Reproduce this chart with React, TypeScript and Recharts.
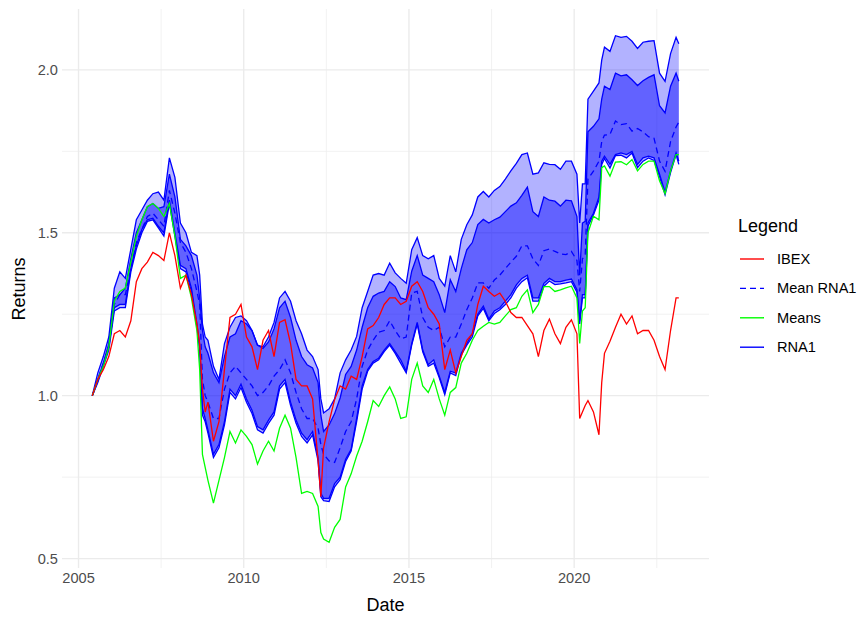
import React from 'react';
import { ComposedChart, Area, Line, XAxis, YAxis, CartesianGrid, Legend } from 'recharts';

// Monthly observation dates (YYYY-MM)
const dates = [
  '2005-06','2005-08','2005-10','2005-12','2006-02','2006-04','2006-06','2006-08','2006-10','2006-12',
  '2007-02','2007-04','2007-06','2007-08','2007-10','2007-12','2008-02','2008-04','2008-06','2008-08',
  '2008-09','2008-10','2008-11','2008-12','2009-02','2009-04','2009-06','2009-08','2009-10','2009-12',
  '2010-02','2010-04','2010-06','2010-08','2010-10','2010-12','2011-02','2011-04','2011-06','2011-08',
  '2011-10','2011-12','2012-02','2012-04','2012-05','2012-06','2012-08','2012-10','2012-12','2013-02',
  '2013-04','2013-06','2013-08','2013-10','2013-12','2014-02','2014-04','2014-06','2014-08','2014-10',
  '2014-12','2015-02','2015-04','2015-06','2015-08','2015-10','2015-12','2016-02','2016-04','2016-06',
  '2016-08','2016-10','2016-12','2017-02','2017-04','2017-06','2017-08','2017-10','2017-12','2018-02',
  '2018-04','2018-06','2018-08','2018-10','2018-12','2019-02','2019-04','2019-06','2019-08','2019-10',
  '2019-12','2020-02','2020-03','2020-04','2020-05','2020-06','2020-08','2020-10','2020-11','2020-12',
  '2021-02','2021-04','2021-06','2021-08','2021-10','2021-12','2022-02','2022-04','2022-06','2022-08',
  '2022-10','2022-12','2023-02','2023-03',
];

// RNA1 outer band upper bound
const rna1Upper = [
  1.00,1.07,1.12,1.18,1.33,1.38,1.36,1.45,1.54,1.57,
  1.60,1.62,1.625,1.60,1.73,1.67,1.53,1.50,1.44,1.43,
  1.37,1.22,1.18,1.17,1.09,1.05,1.16,1.21,1.24,1.245,
  1.23,1.20,1.155,1.15,1.18,1.225,1.30,1.32,1.29,1.23,
  1.19,1.14,1.12,1.08,0.99,0.947,0.96,0.99,1.07,1.11,
  1.14,1.182,1.27,1.32,1.37,1.375,1.37,1.407,1.377,1.36,
  1.345,1.448,1.485,1.43,1.42,1.43,1.36,1.336,1.43,1.38,
  1.48,1.525,1.555,1.61,1.627,1.61,1.63,1.642,1.665,1.69,
  1.713,1.74,1.745,1.68,1.684,1.715,1.71,1.709,1.695,1.72,
  1.72,1.68,1.53,1.65,1.65,1.91,1.935,1.96,2.03,2.07,
  2.057,2.105,2.10,2.103,2.088,2.066,2.085,2.088,2.09,1.99,
  1.965,2.05,2.10,2.08,
];

// RNA1 inner band upper bound
const rna1UpperInner = [
  1.00,1.05,1.10,1.16,1.30,1.31,1.33,1.42,1.50,1.54,
  1.58,1.59,1.575,1.58,1.68,1.61,1.48,1.46,1.43,1.37,
  1.30,1.20,1.15,1.13,1.07,1.04,1.12,1.18,1.19,1.23,
  1.22,1.20,1.155,1.145,1.165,1.205,1.27,1.29,1.24,1.17,
  1.12,1.095,1.085,1.04,0.94,0.89,0.91,0.945,0.993,1.065,
  1.09,1.14,1.21,1.27,1.305,1.315,1.32,1.35,1.335,1.30,
  1.295,1.382,1.43,1.37,1.36,1.35,1.31,1.255,1.356,1.32,
  1.39,1.448,1.47,1.525,1.541,1.53,1.54,1.548,1.565,1.582,
  1.592,1.615,1.64,1.565,1.55,1.61,1.60,1.597,1.582,1.60,
  1.598,1.55,1.37,1.53,1.535,1.81,1.827,1.85,1.91,1.95,
  1.94,1.99,1.982,1.985,1.97,1.952,1.967,1.977,1.985,1.89,
  1.868,1.95,1.99,1.965,
];

// Mean RNA1 (dashed)
const meanRna1 = [
  1.00,1.05,1.10,1.15,1.28,1.31,1.31,1.39,1.47,1.51,
  1.55,1.56,1.54,1.52,1.63,1.56,1.47,1.44,1.39,1.32,
  1.28,1.05,1.00,0.98,0.93,0.93,1.02,1.07,1.09,1.07,
  1.05,1.03,1.00,1.01,1.03,1.06,1.08,1.11,1.07,1.01,
  0.96,0.93,0.93,0.90,0.85,0.82,0.80,0.795,0.84,0.89,
  0.92,0.99,1.09,1.14,1.17,1.195,1.20,1.23,1.20,1.175,
  1.18,1.315,1.32,1.24,1.21,1.20,1.21,1.15,1.18,1.18,
  1.22,1.264,1.30,1.346,1.346,1.33,1.355,1.37,1.39,1.41,
  1.428,1.46,1.46,1.42,1.40,1.445,1.45,1.443,1.435,1.433,
  1.443,1.415,1.32,1.42,1.43,1.665,1.689,1.72,1.78,1.80,
  1.802,1.843,1.832,1.835,1.812,1.82,1.81,1.795,1.79,1.72,
  1.689,1.78,1.825,1.84,
];

// RNA1 inner band lower bound
const rna1LowerInner = [
  1.00,1.045,1.095,1.15,1.27,1.28,1.28,1.39,1.46,1.51,
  1.54,1.545,1.52,1.50,1.60,1.50,1.40,1.39,1.33,1.22,
  1.15,0.96,0.93,0.895,0.82,0.85,0.92,1.02,1.00,1.035,
  0.99,0.955,0.905,0.895,0.925,0.95,1.03,1.05,0.98,0.925,
  0.885,0.865,0.89,0.81,0.70,0.685,0.685,0.73,0.75,0.805,
  0.835,0.93,1.03,1.08,1.105,1.115,1.14,1.16,1.135,1.11,
  1.075,1.16,1.225,1.14,1.095,1.11,1.06,1.01,1.075,1.07,
  1.13,1.16,1.19,1.25,1.275,1.235,1.26,1.27,1.29,1.31,
  1.34,1.36,1.37,1.30,1.30,1.345,1.36,1.35,1.35,1.355,
  1.358,1.325,1.23,1.31,1.31,1.53,1.56,1.61,1.72,1.735,
  1.71,1.74,1.745,1.74,1.75,1.71,1.73,1.735,1.73,1.68,
  1.625,1.69,1.745,1.72,
];

// RNA1 outer band lower bound
const rna1Lower = [
  1.00,1.04,1.09,1.14,1.26,1.27,1.27,1.38,1.45,1.50,
  1.535,1.54,1.515,1.49,1.59,1.49,1.39,1.38,1.32,1.21,
  1.14,0.94,0.92,0.885,0.81,0.84,0.91,1.01,0.99,1.025,
  0.98,0.945,0.895,0.885,0.915,0.94,1.02,1.04,0.97,0.915,
  0.875,0.855,0.88,0.80,0.69,0.678,0.675,0.72,0.742,0.798,
  0.83,0.92,1.02,1.075,1.10,1.11,1.135,1.155,1.13,1.10,
  1.07,1.155,1.22,1.135,1.09,1.10,1.055,1.003,1.07,1.062,
  1.125,1.155,1.18,1.245,1.268,1.23,1.252,1.264,1.28,1.30,
  1.33,1.35,1.362,1.29,1.29,1.336,1.352,1.341,1.343,1.346,
  1.35,1.318,1.22,1.30,1.30,1.52,1.555,1.60,1.71,1.728,
  1.699,1.737,1.738,1.73,1.745,1.70,1.72,1.73,1.722,1.673,
  1.617,1.685,1.74,1.71,
];

// IBEX
const ibex = [
  1.00,1.05,1.08,1.12,1.19,1.20,1.18,1.23,1.35,1.39,
  1.41,1.44,1.43,1.415,1.50,1.43,1.33,1.37,1.31,1.22,
  1.16,1.02,0.95,0.98,0.86,0.92,1.08,1.24,1.25,1.28,
  1.18,1.15,1.08,1.17,1.20,1.12,1.225,1.233,1.16,1.05,
  1.03,1.03,0.99,0.80,0.69,0.84,0.92,0.988,1.03,1.02,
  1.06,1.05,1.12,1.205,1.215,1.24,1.28,1.30,1.30,1.28,
  1.29,1.336,1.35,1.32,1.27,1.25,1.22,1.08,1.14,1.07,
  1.12,1.17,1.19,1.28,1.336,1.32,1.305,1.315,1.29,1.255,
  1.24,1.24,1.215,1.19,1.12,1.20,1.235,1.19,1.16,1.21,
  1.233,1.19,0.93,0.95,0.97,0.985,0.95,0.88,1.04,1.13,
  1.167,1.21,1.25,1.22,1.245,1.19,1.20,1.20,1.17,1.12,
  1.08,1.20,1.30,1.30,
];

// Means
const means = [
  1.00,1.05,1.09,1.15,1.29,1.32,1.33,1.41,1.49,1.54,
  1.58,1.59,1.575,1.55,1.59,1.49,1.36,1.37,1.30,1.20,
  1.08,0.82,0.78,0.74,0.67,0.74,0.81,0.89,0.855,0.895,
  0.875,0.85,0.79,0.83,0.86,0.83,0.90,0.94,0.90,0.81,
  0.70,0.706,0.70,0.66,0.58,0.56,0.55,0.596,0.62,0.72,
  0.76,0.815,0.86,0.92,0.985,0.967,1.00,1.027,0.99,0.93,
  0.935,1.05,1.10,1.03,1.01,1.05,0.99,0.94,1.01,1.025,
  1.10,1.13,1.17,1.20,1.213,1.225,1.22,1.225,1.245,1.264,
  1.27,1.305,1.325,1.255,1.28,1.335,1.335,1.32,1.325,1.331,
  1.336,1.30,1.16,1.26,1.27,1.50,1.551,1.54,1.70,1.705,
  1.674,1.717,1.718,1.709,1.725,1.69,1.71,1.72,1.72,1.66,
  1.62,1.69,1.74,1.74,
];

const xTicks = [2005, 2010, 2015, 2020];
const xMinor = [2007.5, 2012.5, 2017.5, 2022.5];
const yTicks = [0.5, 1.0, 1.5, 2.0];
const yMinor = [0.75, 1.25, 1.75];

const legendItems = [
  { name: 'IBEX', color: '#FF0000', dash: undefined as string | undefined },
  { name: 'Mean RNA1', color: '#0000FF', dash: '6 4' },
  { name: 'Means', color: '#00FF00', dash: undefined },
  { name: 'RNA1', color: '#0000FF', dash: undefined },
];

const toYear = (s: string) => {
  const [y, m] = s.split('-').map(Number);
  return y + (m - 1) / 12;
};

const data = dates.map((d, i) => ({
  t: toYear(d),
  up1: rna1Upper[i],
  up2: rna1UpperInner[i],
  mean: meanRna1[i],
  lo2: rna1LowerInner[i],
  lo1: rna1Lower[i],
  ibex: ibex[i],
  means: means[i],
}));

const FONT = '"Liberation Sans", Arial, sans-serif';

const renderLegend = () => (
  <svg width={136} height={170} style={{ display: 'block', fontFamily: FONT }}>
    <text x={14} y={26} fontSize={18} dominantBaseline="central" fill="#000">Legend</text>
    {legendItems.map((it, i) => {
      const cy = 59 + i * 29.4;
      return (
        <g key={it.name}>
          <line x1={16} x2={40} y1={cy} y2={cy} stroke={it.color} strokeWidth={1.4} strokeDasharray={it.dash} />
          <text x={53} y={cy} fontSize={14.6} dominantBaseline="central" fill="#000">{it.name}</text>
        </g>
      );
    })}
  </svg>
);

const renderYLabel = () => (
  <text x={19} y={289} transform="rotate(-90 19 289)" textAnchor="middle" dominantBaseline="central"
    fontSize={18} fill="#000" fontFamily={FONT}>Returns</text>
);

const renderXLabel = () => (
  <text x={385.5} y={605} textAnchor="middle" dominantBaseline="central"
    fontSize={18} fill="#000" fontFamily={FONT}>Date</text>
);

export default function App() {
  return (
    <div style={{ position: 'absolute', left: 0, top: 0, width: 860, height: 618, background: '#fff', fontFamily: FONT }}>
      <ComposedChart width={860} height={618} data={data} margin={{ top: 9, right: 151, bottom: 0, left: 0 }}>
        <CartesianGrid stroke="#EBEBEB" strokeWidth={0.7} horizontalValues={yMinor} verticalValues={xMinor} />
        <CartesianGrid stroke="#EBEBEB" strokeWidth={1.35} horizontalValues={yTicks} verticalValues={xTicks} />
        <XAxis
          type="number"
          dataKey="t"
          domain={[2004.5, 2024.08]}
          ticks={xTicks}
          allowDataOverflow
          axisLine={false}
          tickLine={false}
          tickSize={0}
          tickMargin={5}
          height={50}
          tick={{ fontSize: 14.6, fill: '#4D4D4D', fontFamily: FONT }}
          label={renderXLabel}
        />
        <YAxis
          type="number"
          domain={[0.471, 2.187]}
          ticks={yTicks}
          allowDataOverflow
          axisLine={false}
          tickLine={false}
          tickSize={0}
          tickMargin={4}
          width={62}
          tickFormatter={(v: number) => v.toFixed(1)}
          tick={{ fontSize: 14.6, fill: '#4D4D4D', fontFamily: FONT }}
          label={renderYLabel}
        />
        <Area
          type="linear"
          dataKey={(d: any) => [d.lo1, d.up1]}
          name="RNA1 outer"
          stroke="#0000FF"
          strokeWidth={1.3}
          fill="#0000FF"
          fillOpacity={0.3}
          isAnimationActive={false}
          dot={false}
          activeDot={false}
        />
        <Area
          type="linear"
          dataKey={(d: any) => [d.lo2, d.up2]}
          name="RNA1 inner"
          stroke="#0000FF"
          strokeWidth={1.3}
          fill="#0000FF"
          fillOpacity={0.45}
          isAnimationActive={false}
          dot={false}
          activeDot={false}
        />
        <Line type="linear" dataKey="mean" name="Mean RNA1" stroke="#0000FF" strokeWidth={1.3}
          strokeDasharray="6 4" dot={false} activeDot={false} isAnimationActive={false} />
        <Line type="linear" dataKey="means" name="Means" stroke="#00FF00" strokeWidth={1.3}
          dot={false} activeDot={false} isAnimationActive={false} />
        <Line type="linear" dataKey="ibex" name="IBEX" stroke="#FF0000" strokeWidth={1.3}
          dot={false} activeDot={false} isAnimationActive={false} />
        <Legend
          layout="vertical"
          align="center"
          verticalAlign="middle"
          content={renderLegend}
          wrapperStyle={{ position: 'absolute', left: 724, top: 200, width: 136, height: 170 }}
        />
      </ComposedChart>
    </div>
  );
}
